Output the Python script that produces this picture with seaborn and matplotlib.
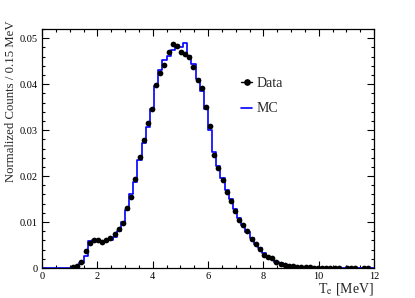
import numpy as np
import pandas as pd
import matplotlib
matplotlib.use("Agg")
import matplotlib.pyplot as plt
from matplotlib.ticker import MultipleLocator
from matplotlib.lines import Line2D
import seaborn as sns

# ---- data (bin width 0.15 MeV, 0..12 MeV) ----
bin_width = 0.15
n_bins = 80
e_range = (0, 12)

data_counts = [
    0, 0, 0, 0, 0, 0, 0, 0.0002, 0.0004, 0.0014,
    0.0037, 0.0054, 0.0061, 0.0061, 0.0057, 0.0061, 0.0065, 0.0073, 0.0084, 0.0097,
    0.0131, 0.0154, 0.0194, 0.0241, 0.0278, 0.0316, 0.0346, 0.0398, 0.0425, 0.0441,
    0.0470, 0.0488, 0.0483, 0.0469, 0.0465, 0.0459, 0.0437, 0.0409, 0.0392, 0.0350,
    0.0310, 0.0246, 0.0218, 0.0192, 0.0165, 0.0146, 0.0125, 0.0104, 0.0093, 0.0080,
    0.0063, 0.0052, 0.0041, 0.0028, 0.0023, 0.0021, 0.0013, 0.0009, 0.0007, 0.0005,
    0.0004, 0.0003, 0.0003, 0.0002, 0.0002, 0.0001, 0.0001, 0.0001, 0.0001, 0.00005,
    0.00005, 0.00005, 0, 0.00005, 0.00005, 0.00005, 0, 0.00005, 0.00005, 0,
]

mc_counts = [
    0, 0, 0, 0, 0, 0, 0, 0.0001, 0.0004, 0.0010,
    0.0027, 0.0058, 0.0060, 0.0060, 0.0056, 0.0059, 0.0062, 0.0068, 0.0080, 0.0100,
    0.0126, 0.0160, 0.0188, 0.0236, 0.0272, 0.0306, 0.0345, 0.0395, 0.0430, 0.0452,
    0.0462, 0.0474, 0.0485, 0.0480, 0.0489, 0.0462, 0.0444, 0.0412, 0.0385, 0.0347,
    0.0300, 0.0252, 0.0222, 0.0195, 0.0170, 0.0150, 0.0128, 0.0108, 0.0094, 0.0079,
    0.0066, 0.0053, 0.0043, 0.0032, 0.0025, 0.0019, 0.0014, 0.0010, 0.0007, 0.0005,
    0.0004, 0.0003, 0.0002, 0.0002, 0.0001, 0.0001, 0.0001, 0.0001, 0.00008, 0.00006,
    0.00005, 0.00004, 0.00004, 0.00003, 0.00003, 0.00002, 0.00002, 0.00002, 0.00001, 0.00001,
]

x_ticks = [0, 2, 4, 6, 8, 10, 12]
y_ticks = [0, 0.01, 0.02, 0.03, 0.04, 0.05]
y_tick_labels = ["0", "0.01", "0.02", "0.03", "0.04", "0.05"]

# ---- plotting ----
sns.set_theme(style="ticks")
plt.rcParams["font.family"] = ["Liberation Serif", "DejaVu Serif"]
plt.rcParams["mathtext.fontset"] = "stix"

edges = np.linspace(e_range[0], e_range[1], n_bins + 1)
centers = (edges[:-1] + edges[1:]) / 2
df = pd.DataFrame({"E": centers, "data": data_counts, "mc": mc_counts})

fig = plt.figure(figsize=(4.15, 2.98), dpi=100)
ax = fig.add_axes([42 / 415, 1 - 268 / 298, (374 - 42) / 415, (268 - 29) / 298])

sns.histplot(data=df, x="E", weights="mc", bins=n_bins, binrange=e_range,
             element="step", fill=False, color="#0000ff", linewidth=1.2, ax=ax)

pts = df[df["data"] > 0]
ax.errorbar(pts["E"], pts["data"], yerr=0.00035, fmt="none", ecolor="black",
            elinewidth=1.2, capsize=0, zorder=3)
sns.scatterplot(data=pts, x="E", y="data", color="black", s=17, marker="o",
                edgecolor="black", linewidth=0, ax=ax, zorder=4)

ax.set_xlim(0, 12)
ax.set_ylim(0, 0.052)
ax.set_xticks(x_ticks)
ax.set_xticklabels([str(t) for t in x_ticks])
ax.set_yticks(y_ticks)
ax.set_yticklabels(y_tick_labels)
ax.xaxis.set_minor_locator(MultipleLocator(0.5))
ax.yaxis.set_minor_locator(MultipleLocator(0.002))
ax.tick_params(which="both", direction="in", top=True, right=True,
               labelsize=7.5, colors="black", pad=3, width=0.8)
ax.tick_params(which="major", length=5)
ax.tick_params(which="minor", length=2.5)
for s in ax.spines.values():
    s.set_linewidth(0.9)
    s.set_color("black")

ax.set_xlabel(r"T$_{\rm e}$ [MeV]", fontsize=10, loc="right", labelpad=0)
ax.set_ylabel("Normalized Counts / 0.15 MeV", fontsize=9.2, loc="top")
ax.yaxis.set_label_coords(-0.075, 1.035)

handles = [
    Line2D([0], [0], color="black", marker="o", markersize=3.8, linewidth=1.0),
    Line2D([0], [0], color="#0000ff", linewidth=1.2),
]
ax.legend(handles, ["Data", "MC"], loc="upper left",
          bbox_to_anchor=(234 / 415, 1 - 70 / 298), bbox_transform=fig.transFigure,
          frameon=False, fontsize=10, handlelength=0.8, handletextpad=0.3,
          labelspacing=0.9, borderpad=0)

fig.savefig("out.png", dpi=100)
